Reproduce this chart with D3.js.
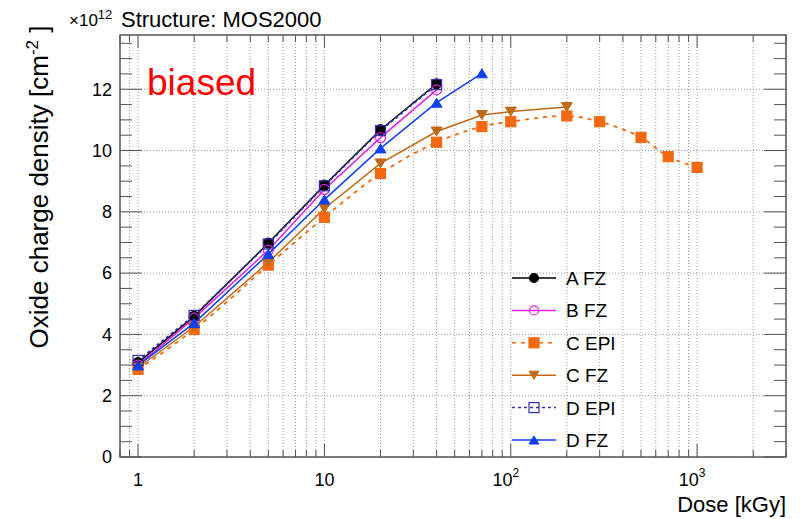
<!DOCTYPE html>
<html>
<head>
<meta charset="utf-8">
<script src="https://cdn.jsdelivr.net/npm/d3@7"></script>
<style>
    body { margin: 0; background: #fff; }
    svg { font-family: "Liberation Sans", Arial, sans-serif; }
    .grid line { stroke: #999; stroke-width: 1; stroke-dasharray: 1,2; }
    .axis text { font-size: 18px; fill: #000; }
    .axis line { stroke: #555; }
</style>
</head>
<body>
<svg id="chart"></svg>
<script>
// dose points (kGy)
const doseShort = [1, 2, 5, 10, 20, 40];
const doseDFZ = [1, 2, 5, 10, 20, 40, 70];
const doseCFZ = [1, 2, 5, 10, 20, 40, 70, 100, 200];
const doseCEPI = [1, 2, 5, 10, 20, 40, 70, 100, 200, 300, 500, 700, 1000];

// oxide charge density, x10^12 cm^-2
const valuesAFZ = [3.08, 4.59, 6.98, 8.87, 10.68, 12.18];
const valuesBFZ = [3.00, 4.53, 6.75, 8.73, 10.42, 11.98];
const valuesCEPI = [2.86, 4.16, 6.26, 7.82, 9.25, 10.27, 10.78, 10.94, 11.13, 10.94, 10.43, 9.80, 9.45];
const valuesCFZ = [2.92, 4.25, 6.35, 8.11, 9.58, 10.62, 11.16, 11.27, 11.42];
const valuesDEPI = [3.15, 4.62, 6.95, 8.85, 10.65, 12.15];
const valuesDFZ = [2.99, 4.37, 6.62, 8.40, 10.07, 11.56, 12.52];

const seriesNames = ['A FZ', 'B FZ', 'C EPI', 'C FZ', 'D EPI', 'D FZ'];
const yTicks = [0, 2, 4, 6, 8, 10, 12];
const xTickLabels = ['1', '10', '10', '10'];
const xTickExp = ['', '', '2', '3'];

const series = [
    {name: seriesNames[0], x: doseShort, y: valuesAFZ, color: '#000000', marker: 'circle', fill: true, dash: null},
    {name: seriesNames[1], x: doseShort, y: valuesBFZ, color: '#e020e0', marker: 'circle', fill: false, dash: null},
    {name: seriesNames[2], x: doseCEPI, y: valuesCEPI, color: '#f26a10', marker: 'square', fill: true, dash: '4,5', smooth: true},
    {name: seriesNames[3], x: doseCFZ, y: valuesCFZ, color: '#c06a18', marker: 'triangleDown', fill: true, dash: null},
    {name: seriesNames[4], x: doseShort, y: valuesDEPI, color: '#3030b0', marker: 'square', fill: false, dash: '3,3'},
    {name: seriesNames[5], x: doseDFZ, y: valuesDFZ, color: '#1040f0', marker: 'triangle', fill: true, dash: null}
];

const width = 800, height = 519;
const margin = {top: 35, right: 14, bottom: 62, left: 120};
const innerW = width - margin.left - margin.right;
const innerH = height - margin.top - margin.bottom;

const svg = d3.select('#chart').attr('width', width).attr('height', height);
const chart = svg.append('g').attr('transform', `translate(${margin.left},${margin.top})`);

const xScale = d3.scaleLog().domain([0.8, 3000]).range([0, innerW]);
const yScale = d3.scaleLinear().domain([0, 13.77]).range([innerH, 0]);

// all log grid positions
const xMinor = [];
for (let e = -1; e <= 3; e++) {
    for (let m = 1; m <= 9; m++) {
        const v = m * Math.pow(10, e);
        if (v >= 0.8 && v <= 3000) xMinor.push(v);
    }
}
const xMajor = [1, 10, 100, 1000];
const yMinor = d3.range(0, 13.76, 0.5);

// gridlines
const grid = chart.append('g').attr('class', 'grid');
grid.selectAll('.gx').data(xMinor).join('line')
    .attr('x1', d => xScale(d)).attr('x2', d => xScale(d))
    .attr('y1', 0).attr('y2', innerH);
grid.selectAll('.gy').data(yTicks).join('line')
    .attr('x1', 0).attr('x2', innerW)
    .attr('y1', d => yScale(d)).attr('y2', d => yScale(d));

// inside ticks on all four sides
const tickG = chart.append('g').attr('class', 'axis');
tickG.selectAll('.tb').data(xMinor).join('line')
    .attr('x1', d => xScale(d)).attr('x2', d => xScale(d))
    .attr('y1', innerH).attr('y2', d => innerH - (xMajor.includes(d) ? 13 : 7));
tickG.selectAll('.tt').data(xMinor).join('line')
    .attr('x1', d => xScale(d)).attr('x2', d => xScale(d))
    .attr('y1', 0).attr('y2', d => xMajor.includes(d) ? 13 : 7);
tickG.selectAll('.tl').data(yMinor).join('line')
    .attr('x1', 0).attr('x2', d => (d % 2 === 0) ? 22 : 12)
    .attr('y1', d => yScale(d)).attr('y2', d => yScale(d));
tickG.selectAll('.tr').data(yMinor).join('line')
    .attr('x1', innerW).attr('x2', d => innerW - ((d % 2 === 0) ? 22 : 12))
    .attr('y1', d => yScale(d)).attr('y2', d => yScale(d));

// y axis labels
const yAxis = d3.axisLeft(yScale).tickValues(yTicks).tickSize(0).tickPadding(8);
chart.append('g').attr('class', 'axis').call(yAxis)
    .call(g => g.select('.domain').remove())
    .selectAll('text').style('font-size', '18px');

// x axis labels with exponents
const xLab = chart.append('g').attr('class', 'axis');
xMajor.forEach((v, i) => {
    const t = xLab.append('text')
        .attr('x', xScale(v) + (xTickExp[i] ? -5 : 0))
        .attr('y', innerH + 29)
        .attr('text-anchor', 'middle')
        .style('font-size', '18px')
        .text(xTickLabels[i]);
    if (xTickExp[i]) {
        t.append('tspan').attr('dy', -9).style('font-size', '12px').text(xTickExp[i]);
    }
});

// frame
chart.append('rect')
    .attr('width', innerW).attr('height', innerH)
    .attr('fill', 'none').attr('stroke', '#555').attr('stroke-width', 1.5);

// markers
function drawMarker(g, s, cx, cy, size) {
    const fill = s.fill ? s.color : '#fff';
    if (s.marker === 'circle') {
        g.append('circle').attr('cx', cx).attr('cy', cy).attr('r', size / 2)
            .attr('fill', s.fill ? s.color : 'none').attr('stroke', s.color).attr('stroke-width', 1.2);
    } else if (s.marker === 'square') {
        g.append('rect').attr('x', cx - size / 2).attr('y', cy - size / 2)
            .attr('width', size).attr('height', size)
            .attr('fill', s.fill ? s.color : 'none').attr('stroke', s.color).attr('stroke-width', 1.2);
    } else {
        const h = size * 0.9, w = size * 0.55;
        const pts = s.marker === 'triangle'
            ? [[cx, cy - h / 2], [cx + w, cy + h / 2], [cx - w, cy + h / 2]]
            : [[cx, cy + h / 2], [cx + w, cy - h / 2], [cx - w, cy - h / 2]];
        g.append('polygon').attr('points', pts.map(p => p.join(',')).join(' '))
            .attr('fill', fill).attr('stroke', s.color);
    }
}

// series
const plot = chart.append('g');
series.forEach(s => {
    const pts = s.x.map((d, i) => [xScale(d), yScale(s.y[i])]);
    const line = d3.line().curve(s.smooth ? d3.curveCatmullRom.alpha(0.5) : d3.curveLinear);
    plot.append('path')
        .attr('d', line(pts))
        .attr('fill', 'none')
        .attr('stroke', s.color)
        .attr('stroke-width', s.dash ? 1.8 : 1.5)
        .attr('stroke-dasharray', s.dash);
});
series.forEach(s => {
    const g = plot.append('g');
    s.x.forEach((d, i) => drawMarker(g, s, xScale(d), yScale(s.y[i]), 10));
});

// legend
const legend = svg.append('g').attr('transform', 'translate(512,278)');
series.forEach((s, i) => {
    const row = legend.append('g').attr('transform', `translate(0,${i * 32.4})`);
    row.append('line').attr('x1', 0).attr('x2', 44).attr('y1', 0).attr('y2', 0)
        .attr('stroke', s.color).attr('stroke-width', 1.5).attr('stroke-dasharray', s.dash);
    drawMarker(row, s, 22, 0, s.marker === 'square' ? 10 : 9);
    row.append('text').attr('x', 54).attr('y', 7).style('font-size', '19px').text(s.name);
});

// texts
svg.append('text').attr('x', 147).attr('y', 95).attr('fill', '#ff0000')
    .style('font-size', '37px').text('biased');

svg.append('text').attr('x', 121).attr('y', 27).style('font-size', '22px').text('Structure: MOS2000');

const mult = svg.append('text').attr('x', 69).attr('y', 26).style('font-size', '17px').text('×10');
mult.append('tspan').attr('dy', -7).style('font-size', '13px').text('12');

const yTitle = svg.append('text')
    .attr('transform', 'translate(48,187) rotate(-90)')
    .attr('text-anchor', 'middle')
    .style('font-size', '26px')
    .text('Oxide charge density [cm');
yTitle.append('tspan').attr('dy', -10).style('font-size', '17px').text('-2');
yTitle.append('tspan').attr('dy', 10).text(' ]');

svg.append('text').attr('x', 786).attr('y', 512).attr('text-anchor', 'end')
    .style('font-size', '22px').text('Dose [kGy]');
</script>
</body>
</html>
